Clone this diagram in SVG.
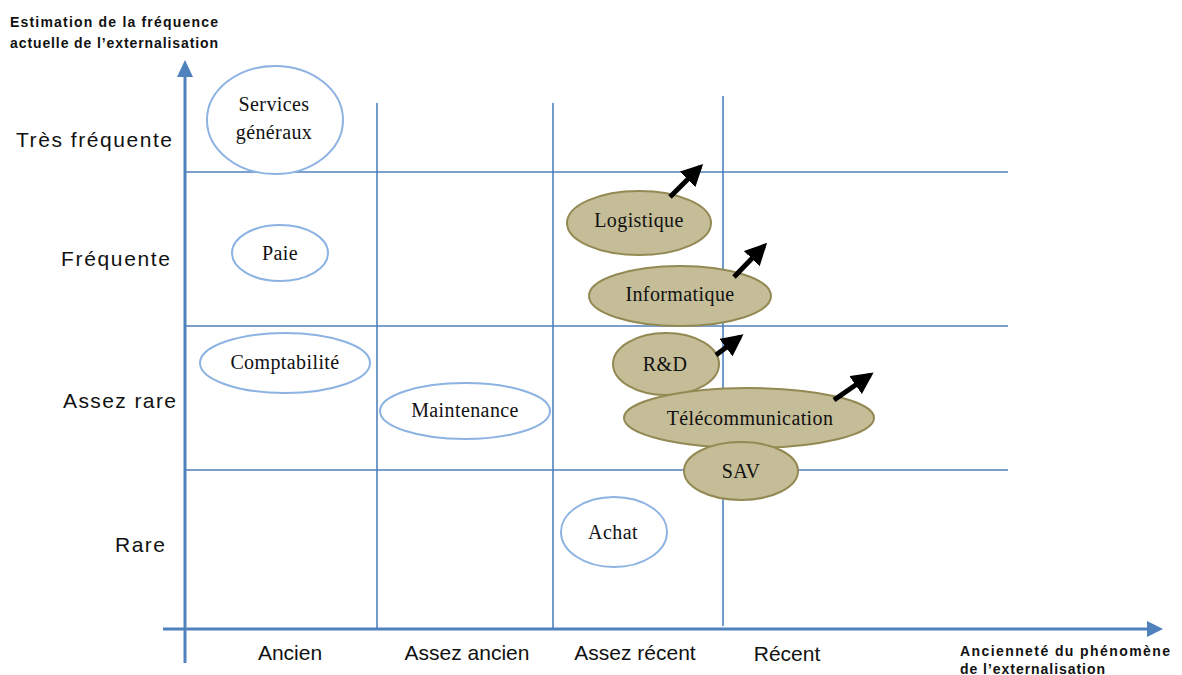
<svg xmlns="http://www.w3.org/2000/svg" width="1182" height="675" viewBox="0 0 1182 675">
<style>
.axis{stroke:#4F81BD;stroke-width:3;fill:none}
.grid{stroke:#4F81BD;stroke-width:1.6;fill:none}
.ol{fill:#fff;stroke:#8DB3E2;stroke-width:2}
.fl{fill:#C4BD97;stroke:#938953;stroke-width:2}
.nt{font-family:"Liberation Serif",serif;font-size:20px;letter-spacing:0.4px;fill:#111;text-anchor:middle}
.lab{font-family:"Liberation Sans",sans-serif;font-size:21px;fill:#111}
.blab{font-family:"Liberation Sans",sans-serif;font-size:21px;fill:#111;text-anchor:middle}
.tt{font-family:"Liberation Sans",sans-serif;font-size:14px;font-weight:bold;fill:#111}
.arr{stroke:#000;stroke-width:5;fill:none}
</style>
<defs>
<marker id="ah" viewBox="0 0 10 10" refX="8" refY="5" markerWidth="4.4" markerHeight="4.4" orient="auto" markerUnits="strokeWidth">
<path d="M0,0 L10,5 L0,10 z" fill="#000"/>
</marker>
</defs>
<g id="axes">
<line class="axis" x1="185" y1="74" x2="185" y2="663"/>
<polygon points="185,60 177,77 193,77" fill="#4F81BD"/>
<line class="axis" x1="163" y1="629" x2="1150" y2="629"/>
<polygon points="1163,629 1147,621 1147,637" fill="#4F81BD"/>
</g>
<g id="grid">
<line class="grid" x1="377" y1="103" x2="377" y2="628"/>
<line class="grid" x1="553" y1="103" x2="553" y2="628"/>
<line class="grid" x1="723" y1="96" x2="723" y2="626"/>
<line class="grid" x1="185" y1="172" x2="1008" y2="172"/>
<line class="grid" x1="185" y1="326" x2="1008" y2="326"/>
<line class="grid" x1="185" y1="470" x2="1008" y2="470"/>
</g>
<g id="titles">
<text class="tt" x="10" y="27" textLength="208" lengthAdjust="spacing">Estimation  de la fréquence</text>
<text class="tt" x="10" y="48" textLength="208" lengthAdjust="spacing">actuelle de l’externalisation</text>
<text class="tt" x="960" y="656" textLength="210" lengthAdjust="spacing">Ancienneté du phénomène</text>
<text class="tt" x="960" y="674" textLength="145" lengthAdjust="spacing">de l’externalisation</text>
</g>
<g id="ylabels">
<text class="lab" x="16" y="147" textLength="156" lengthAdjust="spacing">Très fréquente</text>
<text class="lab" x="61" y="266" textLength="109" lengthAdjust="spacing">Fréquente</text>
<text class="lab" x="63" y="408" textLength="113" lengthAdjust="spacing">Assez rare</text>
<text class="lab" x="115" y="552" textLength="50" lengthAdjust="spacing">Rare</text>
</g>
<g id="xlabels">
<text class="blab" x="290" y="660">Ancien</text>
<text class="blab" x="467" y="660">Assez ancien</text>
<text class="blab" x="635" y="660">Assez récent</text>
<text class="blab" x="787" y="661">Récent</text>
</g>
<g id="services">
<ellipse class="ol" cx="275" cy="120" rx="68" ry="54"/>
<text class="nt" x="274" y="111">Services</text>
<text class="nt" x="274" y="139">généraux</text>
</g>
<g id="paie">
<ellipse class="ol" cx="280" cy="253" rx="48" ry="28"/>
<text class="nt" x="280" y="260">Paie</text>
</g>
<g id="comptabilite">
<ellipse class="ol" cx="285" cy="363" rx="85" ry="30"/>
<text class="nt" x="285" y="369">Comptabilité</text>
</g>
<g id="maintenance">
<ellipse class="ol" cx="465" cy="411" rx="85" ry="28"/>
<text class="nt" x="465" y="417">Maintenance</text>
</g>
<g id="achat">
<ellipse class="ol" cx="614" cy="532" rx="53" ry="35"/>
<text class="nt" x="613" y="539">Achat</text>
</g>
<g id="logistique">
<ellipse class="fl" cx="639" cy="223" rx="72" ry="32"/>
<text class="nt" x="639" y="227">Logistique</text>
</g>
<g id="informatique">
<ellipse class="fl" cx="680" cy="296" rx="91" ry="30"/>
<text class="nt" x="680" y="301">Informatique</text>
</g>
<g id="rd">
<ellipse class="fl" cx="666" cy="364" rx="53" ry="31"/>
<text class="nt" x="665" y="371">R&amp;D</text>
</g>
<g id="telecommunication">
<ellipse class="fl" cx="749" cy="418" rx="125" ry="30"/>
<text class="nt" x="750" y="425">Télécommunication</text>
</g>
<g id="sav">
<ellipse class="fl" cx="741" cy="471" rx="57" ry="29"/>
<text class="nt" x="741" y="478">SAV</text>
</g>
<g id="connectors">
<line class="arr" x1="670" y1="197" x2="700" y2="167" marker-end="url(#ah)"/>
<line class="arr" x1="734" y1="277" x2="764" y2="246" marker-end="url(#ah)"/>
<line class="arr" x1="716" y1="355" x2="740" y2="337" marker-end="url(#ah)"/>
<line class="arr" x1="834" y1="400" x2="870" y2="375" marker-end="url(#ah)"/>
</g>
</svg>
